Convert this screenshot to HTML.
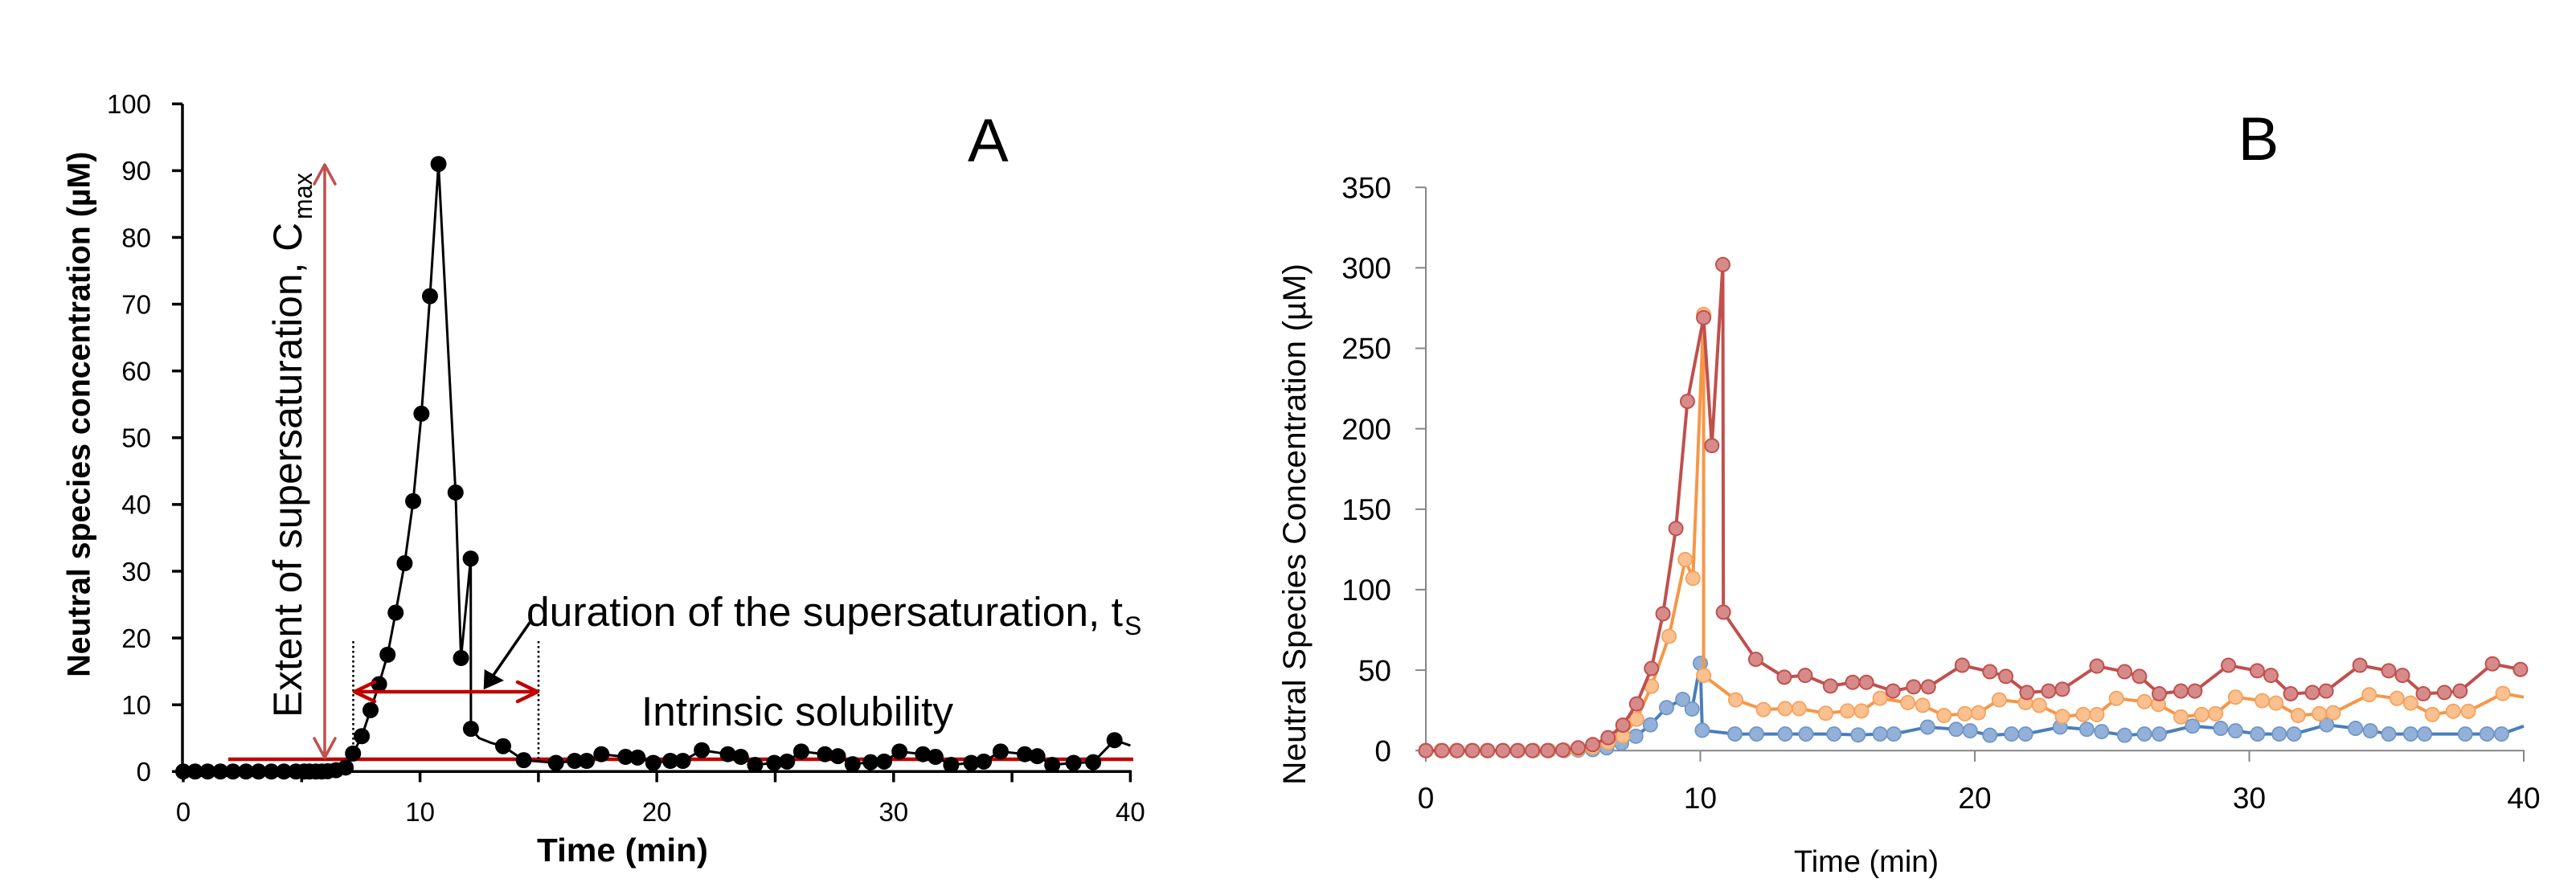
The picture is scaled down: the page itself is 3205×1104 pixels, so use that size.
<!DOCTYPE html>
<html>
<head>
<meta charset="utf-8">
<style>
  html, body { margin:0; padding:0; background:#ffffff; }
  svg { display:block; }
  text { font-family: "Liberation Sans", Arial, sans-serif; }
</style>
</head>
<body>
<svg width="3205" height="1104" viewBox="0 0 3205 1104" xmlns="http://www.w3.org/2000/svg">
  <rect x="0" y="0" width="3205" height="1104" fill="#ffffff"/>

  <!-- ===================== CHART A ===================== -->
  <!-- axes -->
  <g stroke="#000" stroke-width="3.5" fill="none">
    <line x1="227" y1="129.3" x2="227" y2="962"/>
    <line x1="225.5" y1="960.3" x2="1408" y2="960.3"/>
    <!-- y ticks -->
    <line x1="214" y1="129.3" x2="227" y2="129.3"/>
    <line x1="214" y1="212.4" x2="227" y2="212.4"/>
    <line x1="214" y1="295.5" x2="227" y2="295.5"/>
    <line x1="214" y1="378.6" x2="227" y2="378.6"/>
    <line x1="214" y1="461.7" x2="227" y2="461.7"/>
    <line x1="214" y1="544.8" x2="227" y2="544.8"/>
    <line x1="214" y1="627.9" x2="227" y2="627.9"/>
    <line x1="214" y1="711.0" x2="227" y2="711.0"/>
    <line x1="214" y1="794.1" x2="227" y2="794.1"/>
    <line x1="214" y1="877.2" x2="227" y2="877.2"/>
    <line x1="214" y1="960.3" x2="227" y2="960.3"/>
    <!-- x ticks -->
    <line x1="228" y1="960" x2="228" y2="973.5"/>
    <line x1="375.3" y1="960" x2="375.3" y2="973.5"/>
    <line x1="522.6" y1="960" x2="522.6" y2="973.5"/>
    <line x1="669.9" y1="960" x2="669.9" y2="973.5"/>
    <line x1="817.2" y1="960" x2="817.2" y2="973.5"/>
    <line x1="964.5" y1="960" x2="964.5" y2="973.5"/>
    <line x1="1111.8" y1="960" x2="1111.8" y2="973.5"/>
    <line x1="1259.1" y1="960" x2="1259.1" y2="973.5"/>
    <line x1="1406.4" y1="960" x2="1406.4" y2="973.5"/>
  </g>

  <!-- y tick labels A -->
  <g font-size="33" fill="#000" text-anchor="end">
    <text x="188" y="141">100</text>
    <text x="188" y="224.2">90</text>
    <text x="188" y="307.3">80</text>
    <text x="188" y="390.4">70</text>
    <text x="188" y="473.5">60</text>
    <text x="188" y="556.6">50</text>
    <text x="188" y="639.7">40</text>
    <text x="188" y="722.8">30</text>
    <text x="188" y="805.9">20</text>
    <text x="188" y="889">10</text>
    <text x="188" y="972.1">0</text>
  </g>
  <!-- x tick labels A -->
  <g font-size="33" fill="#000" text-anchor="middle">
    <text x="228" y="1022">0</text>
    <text x="522.6" y="1022">10</text>
    <text x="817.2" y="1022">20</text>
    <text x="1111.8" y="1022">30</text>
    <text x="1406.4" y="1022">40</text>
  </g>

  <!-- axis titles A -->
  <text transform="translate(111.7,842.7) rotate(-90)" font-size="40" font-weight="bold" fill="#000" textLength="654" lengthAdjust="spacingAndGlyphs">Neutral species concentration (µM)</text>
  <text x="668" y="1072" font-size="41" font-weight="bold" fill="#000" textLength="213" lengthAdjust="spacingAndGlyphs">Time (min)</text>
  <text x="1204" y="201" font-size="76" fill="#000">A</text>

  <!-- intrinsic solubility line -->
  <line x1="284" y1="945" x2="1410" y2="945" stroke="#c00000" stroke-width="4.5"/>

  <!-- dotted lines -->
  <g stroke="#000" stroke-width="2.6" stroke-dasharray="2.6 3.4" fill="none">
    <line x1="439.5" y1="798" x2="439.5" y2="947"/>
    <line x1="670" y1="798" x2="670" y2="947"/>
  </g>

  <!-- Data A -->
  <g transform="translate(228,960.3) scale(29.46,-8.31)">
    <path fill="none" stroke="#000" stroke-width="3" vector-effect="non-scaling-stroke" stroke-linejoin="round"
      d="M0 0 L0.5 0 L1.03 0 L1.57 0 L2.1 0 L2.65 0 L3.18 0 L3.72 0 L4.25 0 L4.76 0 L5.1 0 L5.33 0 L5.6 0 L5.85 0 L6.1 0.05 L6.45 0.2 L6.86 0.6 L7.17 2.7 L7.54 5.3 L7.91 9.2 L8.27 13.1 L8.63 17.5 L8.97 23.8 L9.35 31.2 L9.71 40.5 L10.06 53.6 L10.42 71.2 L10.78 91 L11.5 41.8 L11.73 17.0 L12.14 31.9 L12.15 6.4 L12.5 5.0 L13.0 4.3 L13.51 3.8 L14.38 1.7 L15.74 1.3 L16.53 1.6 L17.04 1.6 L17.66 2.6 L18.68 2.2 L19.19 2.1 L19.85 1.3 L20.57 1.6 L21.1 1.6 L21.9 3.2 L23.0 2.6 L23.55 2.2 L24.15 1.0 L24.96 1.3 L25.5 1.5 L26.1 3.0 L27.1 2.6 L27.65 2.3 L28.27 1.1 L29.03 1.4 L29.6 1.5 L30.25 3.0 L31.24 2.6 L31.77 2.2 L32.43 1.0 L33.28 1.3 L33.81 1.5 L34.52 3.0 L35.54 2.6 L36.07 2.3 L36.7 1.0 L37.6 1.3 L38.43 1.4 L39.33 4.7 L40 3.9"/>
    <path fill="none" stroke="#000" stroke-width="20" stroke-linecap="round" vector-effect="non-scaling-stroke"
      d="M0 0 h0 M0.5 0 h0 M1.03 0 h0 M1.57 0 h0 M2.1 0 h0 M2.65 0 h0 M3.18 0 h0 M3.72 0 h0 M4.25 0 h0 M4.76 0 h0 M5.1 0 h0 M5.33 0 h0 M5.6 0 h0 M5.85 0 h0 M6.1 0.05 h0 M6.45 0.2 h0 M6.86 0.6 h0 M7.17 2.7 h0 M7.54 5.3 h0 M7.91 9.2 h0 M8.27 13.1 h0 M8.63 17.5 h0 M8.97 23.8 h0 M9.35 31.2 h0 M9.71 40.5 h0 M10.06 53.6 h0 M10.42 71.2 h0 M10.78 91 h0 M11.5 41.8 h0 M11.73 17.0 h0 M12.14 31.9 h0 M12.15 6.4 h0 M13.51 3.8 h0 M14.38 1.7 h0 M15.74 1.3 h0 M16.53 1.6 h0 M17.04 1.6 h0 M17.66 2.6 h0 M18.68 2.2 h0 M19.19 2.1 h0 M19.85 1.3 h0 M20.57 1.6 h0 M21.1 1.6 h0 M21.9 3.2 h0 M23.0 2.6 h0 M23.55 2.2 h0 M24.15 1.0 h0 M24.96 1.3 h0 M25.5 1.5 h0 M26.1 3.0 h0 M27.1 2.6 h0 M27.65 2.3 h0 M28.27 1.1 h0 M29.03 1.4 h0 M29.6 1.5 h0 M30.25 3.0 h0 M31.24 2.6 h0 M31.77 2.2 h0 M32.43 1.0 h0 M33.28 1.3 h0 M33.81 1.5 h0 M34.52 3.0 h0 M35.54 2.6 h0 M36.07 2.3 h0 M36.7 1.0 h0 M37.6 1.3 h0 M38.43 1.4 h0 M39.33 4.7 h0"/>
  </g>

  <!-- Cmax vertical arrow -->
  <g stroke="#c0504d" stroke-width="3.5" fill="none" stroke-linecap="round" stroke-linejoin="round">
    <line x1="404" y1="206" x2="404" y2="942"/>
    <polyline points="391,229 404,205 417,229"/>
    <polyline points="391,919 404,943 417,919"/>
  </g>

  <!-- duration double arrow -->
  <g stroke="#c00000" stroke-width="4.5" fill="none" stroke-linecap="round" stroke-linejoin="round">
    <line x1="443" y1="861" x2="667" y2="861"/>
    <polyline points="466,849 441,861 466,873"/>
    <polyline points="644,849 669,861 644,873"/>
  </g>

  <!-- black pointer arrow -->
  <line x1="659" y1="775" x2="612" y2="843" stroke="#000" stroke-width="3.5" stroke-linecap="round"/>
  <polygon points="601.7,858.3 602.7,833 627,847" fill="#000"/>

  <!-- annotations text -->
  <text x="655" y="779" font-size="51" fill="#000" textLength="742" lengthAdjust="spacingAndGlyphs">duration of the supersaturation, t</text>
  <text x="1399" y="790" font-size="32" fill="#000">S</text>
  <text x="798" y="903" font-size="51" fill="#000" textLength="388" lengthAdjust="spacingAndGlyphs">Intrinsic solubility</text>
  <text transform="translate(375,893) rotate(-90)" font-size="50" fill="#000" textLength="616" lengthAdjust="spacingAndGlyphs">Extent of supersaturation, C</text>
  <text transform="translate(388,273) rotate(-90)" font-size="32" fill="#000" textLength="58" lengthAdjust="spacingAndGlyphs">max</text>

  <!-- ===================== CHART B ===================== -->
  <g stroke="#868686" stroke-width="2" fill="none">
    <line x1="1774" y1="233.2" x2="1774" y2="935"/>
    <line x1="1773" y1="934.2" x2="3141" y2="934.2"/>
    <line x1="1761" y1="233.2" x2="1774" y2="233.2"/>
    <line x1="1761" y1="333.3" x2="1774" y2="333.3"/>
    <line x1="1761" y1="433.5" x2="1774" y2="433.5"/>
    <line x1="1761" y1="533.6" x2="1774" y2="533.6"/>
    <line x1="1761" y1="633.8" x2="1774" y2="633.8"/>
    <line x1="1761" y1="733.9" x2="1774" y2="733.9"/>
    <line x1="1761" y1="834.1" x2="1774" y2="834.1"/>
    <line x1="1761" y1="934.2" x2="1774" y2="934.2"/>
    <line x1="1774" y1="934" x2="1774" y2="948"/>
    <line x1="2115.5" y1="934" x2="2115.5" y2="948"/>
    <line x1="2457" y1="934" x2="2457" y2="948"/>
    <line x1="2798.5" y1="934" x2="2798.5" y2="948"/>
    <line x1="3140" y1="934" x2="3140" y2="948"/>
  </g>

  <g font-size="37" fill="#000" text-anchor="end">
    <text x="1731" y="246.4">350</text>
    <text x="1731" y="346.5">300</text>
    <text x="1731" y="446.7">250</text>
    <text x="1731" y="546.8">200</text>
    <text x="1731" y="647">150</text>
    <text x="1731" y="747.1">100</text>
    <text x="1731" y="847.3">50</text>
    <text x="1731" y="947.4">0</text>
  </g>
  <g font-size="37" fill="#000" text-anchor="middle">
    <text x="1774" y="1006">0</text>
    <text x="2115.5" y="1006">10</text>
    <text x="2457" y="1006">20</text>
    <text x="2798.5" y="1006">30</text>
    <text x="3140" y="1006">40</text>
  </g>

  <text transform="translate(1624,977) rotate(-90)" font-size="40" fill="#000" textLength="649" lengthAdjust="spacingAndGlyphs">Neutral Species Concentration (µM)</text>
  <text x="2322" y="1085" font-size="38" fill="#000" text-anchor="middle">Time (min)</text>
  <text x="2810" y="199" font-size="76" fill="#000" text-anchor="middle">B</text>

  <g transform="translate(1774,934.2) scale(34.15,-2.003)">
    <!-- Blue -->
    <path fill="none" stroke="#4a7ebb" stroke-width="4" vector-effect="non-scaling-stroke" stroke-linejoin="round"
      d="M0 0 L0.56 0 L1.12 0 L1.68 0 L2.24 0 L2.8 0 L3.36 0 L3.92 0 L4.48 0 L5.04 0 L5.55 0.3 L6.08 0.6 L6.59 1.7 L7.13 4.6 L7.65 8.9 L8.18 16 L8.77 26.7 L9.36 31.8 L9.7 25.8 L10.0 54.2 L10.07 12.6 L11.26 10.3 L12.05 10.3 L13.09 10.3 L13.85 10.3 L14.87 10.3 L15.75 9.7 L16.55 10.3 L17.05 10.3 L18.28 14.6 L19.32 13.2 L19.83 12.3 L20.55 9.5 L21.34 10.3 L21.85 10.3 L23.11 14.6 L24.08 13.2 L24.62 11.8 L25.46 9.5 L26.18 10.3 L26.72 10.3 L27.93 15.2 L28.96 13.8 L29.5 12.3 L30.3 10.3 L31.09 10.3 L31.63 10.3 L32.82 16 L33.87 13.8 L34.41 12.3 L35.08 10.3 L35.88 10.3 L36.39 10.3 L37.87 10.3 L38.66 10.3 L39.19 10.3 L40.0 15.2"/>
    <path id="bm" fill="none" stroke="#6f96c8" stroke-width="19" stroke-linecap="round" vector-effect="non-scaling-stroke"
      d="M0 0 h0 M0.56 0 h0 M1.12 0 h0 M1.68 0 h0 M2.24 0 h0 M2.8 0 h0 M3.36 0 h0 M3.92 0 h0 M4.48 0 h0 M5.04 0 h0 M5.55 0.3 h0 M6.08 0.6 h0 M6.59 1.7 h0 M7.13 4.6 h0 M7.65 8.9 h0 M8.18 16 h0 M8.77 26.7 h0 M9.36 31.8 h0 M9.7 25.8 h0 M10.0 54.2 h0 M10.07 12.6 h0 M11.26 10.3 h0 M12.05 10.3 h0 M13.09 10.3 h0 M13.85 10.3 h0 M14.87 10.3 h0 M15.75 9.7 h0 M16.55 10.3 h0 M17.05 10.3 h0 M18.28 14.6 h0 M19.32 13.2 h0 M19.83 12.3 h0 M20.55 9.5 h0 M21.34 10.3 h0 M21.85 10.3 h0 M23.11 14.6 h0 M24.08 13.2 h0 M24.62 11.8 h0 M25.46 9.5 h0 M26.18 10.3 h0 M26.72 10.3 h0 M27.93 15.2 h0 M28.96 13.8 h0 M29.5 12.3 h0 M30.3 10.3 h0 M31.09 10.3 h0 M31.63 10.3 h0 M32.82 16 h0 M33.87 13.8 h0 M34.41 12.3 h0 M35.08 10.3 h0 M35.88 10.3 h0 M36.39 10.3 h0 M37.87 10.3 h0 M38.66 10.3 h0 M39.19 10.3 h0"/>
    <path fill="none" stroke="#93b1d8" stroke-width="15.5" stroke-linecap="round" vector-effect="non-scaling-stroke"
      d="M0 0 h0 M0.56 0 h0 M1.12 0 h0 M1.68 0 h0 M2.24 0 h0 M2.8 0 h0 M3.36 0 h0 M3.92 0 h0 M4.48 0 h0 M5.04 0 h0 M5.55 0.3 h0 M6.08 0.6 h0 M6.59 1.7 h0 M7.13 4.6 h0 M7.65 8.9 h0 M8.18 16 h0 M8.77 26.7 h0 M9.36 31.8 h0 M9.7 25.8 h0 M10.0 54.2 h0 M10.07 12.6 h0 M11.26 10.3 h0 M12.05 10.3 h0 M13.09 10.3 h0 M13.85 10.3 h0 M14.87 10.3 h0 M15.75 9.7 h0 M16.55 10.3 h0 M17.05 10.3 h0 M18.28 14.6 h0 M19.32 13.2 h0 M19.83 12.3 h0 M20.55 9.5 h0 M21.34 10.3 h0 M21.85 10.3 h0 M23.11 14.6 h0 M24.08 13.2 h0 M24.62 11.8 h0 M25.46 9.5 h0 M26.18 10.3 h0 M26.72 10.3 h0 M27.93 15.2 h0 M28.96 13.8 h0 M29.5 12.3 h0 M30.3 10.3 h0 M31.09 10.3 h0 M31.63 10.3 h0 M32.82 16 h0 M33.87 13.8 h0 M34.41 12.3 h0 M35.08 10.3 h0 M35.88 10.3 h0 M36.39 10.3 h0 M37.87 10.3 h0 M38.66 10.3 h0 M39.19 10.3 h0"/>

    <!-- Orange -->
    <path fill="none" stroke="#f79646" stroke-width="4" vector-effect="non-scaling-stroke" stroke-linejoin="round"
      d="M0 0 L0.56 0 L1.12 0 L1.68 0 L2.24 0 L2.8 0 L3.36 0 L3.92 0 L4.48 0 L5.04 0.2 L5.55 0.8 L6.08 2 L6.64 5 L7.18 9 L7.68 19.5 L8.22 40 L8.86 71 L9.45 118.7 L9.73 107 L10.12 271 L10.12 46.7 L11.29 31.5 L12.3 25.5 L13.09 26.1 L13.6 26.1 L14.57 23.2 L15.36 24.6 L15.87 24.6 L16.55 32.5 L17.56 29.8 L18.1 28.1 L18.88 21.8 L19.64 22.9 L20.13 23.5 L20.89 31.5 L21.85 29.8 L22.35 28.1 L23.19 21.2 L23.95 22.4 L24.45 22.4 L25.16 32.4 L26.18 30.4 L26.69 28.7 L27.51 20.9 L28.27 22.4 L28.77 22.9 L29.5 33.2 L30.47 31 L30.97 29.5 L31.78 21.8 L32.55 22.9 L33.06 23.5 L34.37 34.7 L35.38 32.4 L35.88 29.5 L36.67 22.4 L37.43 24.4 L37.98 24.4 L39.24 35.5 L40.0 33.2"/>
    <path fill="none" stroke="#f5a15c" stroke-width="19" stroke-linecap="round" vector-effect="non-scaling-stroke"
      d="M0 0 h0 M0.56 0 h0 M1.12 0 h0 M1.68 0 h0 M2.24 0 h0 M2.8 0 h0 M3.36 0 h0 M3.92 0 h0 M4.48 0 h0 M5.04 0.2 h0 M5.55 0.8 h0 M6.08 2 h0 M6.64 5 h0 M7.18 9 h0 M7.68 19.5 h0 M8.22 40 h0 M8.86 71 h0 M9.45 118.7 h0 M9.73 107 h0 M10.12 271 h0 M10.12 46.7 h0 M11.29 31.5 h0 M12.3 25.5 h0 M13.09 26.1 h0 M13.6 26.1 h0 M14.57 23.2 h0 M15.36 24.6 h0 M15.87 24.6 h0 M16.55 32.5 h0 M17.56 29.8 h0 M18.1 28.1 h0 M18.88 21.8 h0 M19.64 22.9 h0 M20.13 23.5 h0 M20.89 31.5 h0 M21.85 29.8 h0 M22.35 28.1 h0 M23.19 21.2 h0 M23.95 22.4 h0 M24.45 22.4 h0 M25.16 32.4 h0 M26.18 30.4 h0 M26.69 28.7 h0 M27.51 20.9 h0 M28.27 22.4 h0 M28.77 22.9 h0 M29.5 33.2 h0 M30.47 31 h0 M30.97 29.5 h0 M31.78 21.8 h0 M32.55 22.9 h0 M33.06 23.5 h0 M34.37 34.7 h0 M35.38 32.4 h0 M35.88 29.5 h0 M36.67 22.4 h0 M37.43 24.4 h0 M37.98 24.4 h0 M39.24 35.5 h0"/>
    <path fill="none" stroke="#fac08f" stroke-width="15.5" stroke-linecap="round" vector-effect="non-scaling-stroke"
      d="M0 0 h0 M0.56 0 h0 M1.12 0 h0 M1.68 0 h0 M2.24 0 h0 M2.8 0 h0 M3.36 0 h0 M3.92 0 h0 M4.48 0 h0 M5.04 0.2 h0 M5.55 0.8 h0 M6.08 2 h0 M6.64 5 h0 M7.18 9 h0 M7.68 19.5 h0 M8.22 40 h0 M8.86 71 h0 M9.45 118.7 h0 M9.73 107 h0 M10.12 271 h0 M10.12 46.7 h0 M11.29 31.5 h0 M12.3 25.5 h0 M13.09 26.1 h0 M13.6 26.1 h0 M14.57 23.2 h0 M15.36 24.6 h0 M15.87 24.6 h0 M16.55 32.5 h0 M17.56 29.8 h0 M18.1 28.1 h0 M18.88 21.8 h0 M19.64 22.9 h0 M20.13 23.5 h0 M20.89 31.5 h0 M21.85 29.8 h0 M22.35 28.1 h0 M23.19 21.2 h0 M23.95 22.4 h0 M24.45 22.4 h0 M25.16 32.4 h0 M26.18 30.4 h0 M26.69 28.7 h0 M27.51 20.9 h0 M28.27 22.4 h0 M28.77 22.9 h0 M29.5 33.2 h0 M30.47 31 h0 M30.97 29.5 h0 M31.78 21.8 h0 M32.55 22.9 h0 M33.06 23.5 h0 M34.37 34.7 h0 M35.38 32.4 h0 M35.88 29.5 h0 M36.67 22.4 h0 M37.43 24.4 h0 M37.98 24.4 h0 M39.24 35.5 h0"/>

    <!-- Red -->
    <path fill="none" stroke="#c0504d" stroke-width="4" vector-effect="non-scaling-stroke" stroke-linejoin="round"
      d="M0 0 L0.59 0 L1.14 0 L1.7 0 L2.25 0 L2.81 0 L3.34 0 L3.88 0 L4.44 0 L4.99 0.3 L5.55 1.7 L6.08 3.7 L6.64 8 L7.18 15.8 L7.68 29 L8.22 51 L8.64 85 L9.11 138 L9.53 217 L10.12 269 L10.42 189.5 L10.82 302 L10.84 86 L12.02 56.7 L13.06 45.6 L13.82 46.7 L14.74 40.1 L15.55 42.4 L16.05 42.4 L17.02 37 L17.77 39.6 L18.31 39.6 L19.54 53 L20.55 49 L21.13 46.1 L21.9 36.1 L22.69 37 L23.19 38.1 L24.45 52.5 L25.46 49 L26.0 46.1 L26.72 35.3 L27.51 37 L28.02 37 L29.24 53 L30.29 49.6 L30.79 46.7 L31.51 35.3 L32.3 36.1 L32.8 37 L34.03 53 L35.08 49.6 L35.58 46.7 L36.34 35.3 L37.11 36.1 L37.68 37 L38.86 53.9 L39.88 50.4"/>
    <path fill="none" stroke="#c0504d" stroke-width="19" stroke-linecap="round" vector-effect="non-scaling-stroke"
      d="M0 0 h0 M0.59 0 h0 M1.14 0 h0 M1.7 0 h0 M2.25 0 h0 M2.81 0 h0 M3.34 0 h0 M3.88 0 h0 M4.44 0 h0 M4.99 0.3 h0 M5.55 1.7 h0 M6.08 3.7 h0 M6.64 8 h0 M7.18 15.8 h0 M7.68 29 h0 M8.22 51 h0 M8.64 85 h0 M9.11 138 h0 M9.53 217 h0 M10.12 269 h0 M10.42 189.5 h0 M10.82 302 h0 M10.84 86 h0 M12.02 56.7 h0 M13.06 45.6 h0 M13.82 46.7 h0 M14.74 40.1 h0 M15.55 42.4 h0 M16.05 42.4 h0 M17.02 37 h0 M17.77 39.6 h0 M18.31 39.6 h0 M19.54 53 h0 M20.55 49 h0 M21.13 46.1 h0 M21.9 36.1 h0 M22.69 37 h0 M23.19 38.1 h0 M24.45 52.5 h0 M25.46 49 h0 M26.0 46.1 h0 M26.72 35.3 h0 M27.51 37 h0 M28.02 37 h0 M29.24 53 h0 M30.29 49.6 h0 M30.79 46.7 h0 M31.51 35.3 h0 M32.3 36.1 h0 M32.8 37 h0 M34.03 53 h0 M35.08 49.6 h0 M35.58 46.7 h0 M36.34 35.3 h0 M37.11 36.1 h0 M37.68 37 h0 M38.86 53.9 h0 M39.88 50.4 h0"/>
    <path fill="none" stroke="#d68b8a" stroke-width="15" stroke-linecap="round" vector-effect="non-scaling-stroke"
      d="M0 0 h0 M0.59 0 h0 M1.14 0 h0 M1.7 0 h0 M2.25 0 h0 M2.81 0 h0 M3.34 0 h0 M3.88 0 h0 M4.44 0 h0 M4.99 0.3 h0 M5.55 1.7 h0 M6.08 3.7 h0 M6.64 8 h0 M7.18 15.8 h0 M7.68 29 h0 M8.22 51 h0 M8.64 85 h0 M9.11 138 h0 M9.53 217 h0 M10.12 269 h0 M10.42 189.5 h0 M10.82 302 h0 M10.84 86 h0 M12.02 56.7 h0 M13.06 45.6 h0 M13.82 46.7 h0 M14.74 40.1 h0 M15.55 42.4 h0 M16.05 42.4 h0 M17.02 37 h0 M17.77 39.6 h0 M18.31 39.6 h0 M19.54 53 h0 M20.55 49 h0 M21.13 46.1 h0 M21.9 36.1 h0 M22.69 37 h0 M23.19 38.1 h0 M24.45 52.5 h0 M25.46 49 h0 M26.0 46.1 h0 M26.72 35.3 h0 M27.51 37 h0 M28.02 37 h0 M29.24 53 h0 M30.29 49.6 h0 M30.79 46.7 h0 M31.51 35.3 h0 M32.3 36.1 h0 M32.8 37 h0 M34.03 53 h0 M35.08 49.6 h0 M35.58 46.7 h0 M36.34 35.3 h0 M37.11 36.1 h0 M37.68 37 h0 M38.86 53.9 h0 M39.88 50.4 h0"/>
  </g>
</svg>
</body>
</html>
